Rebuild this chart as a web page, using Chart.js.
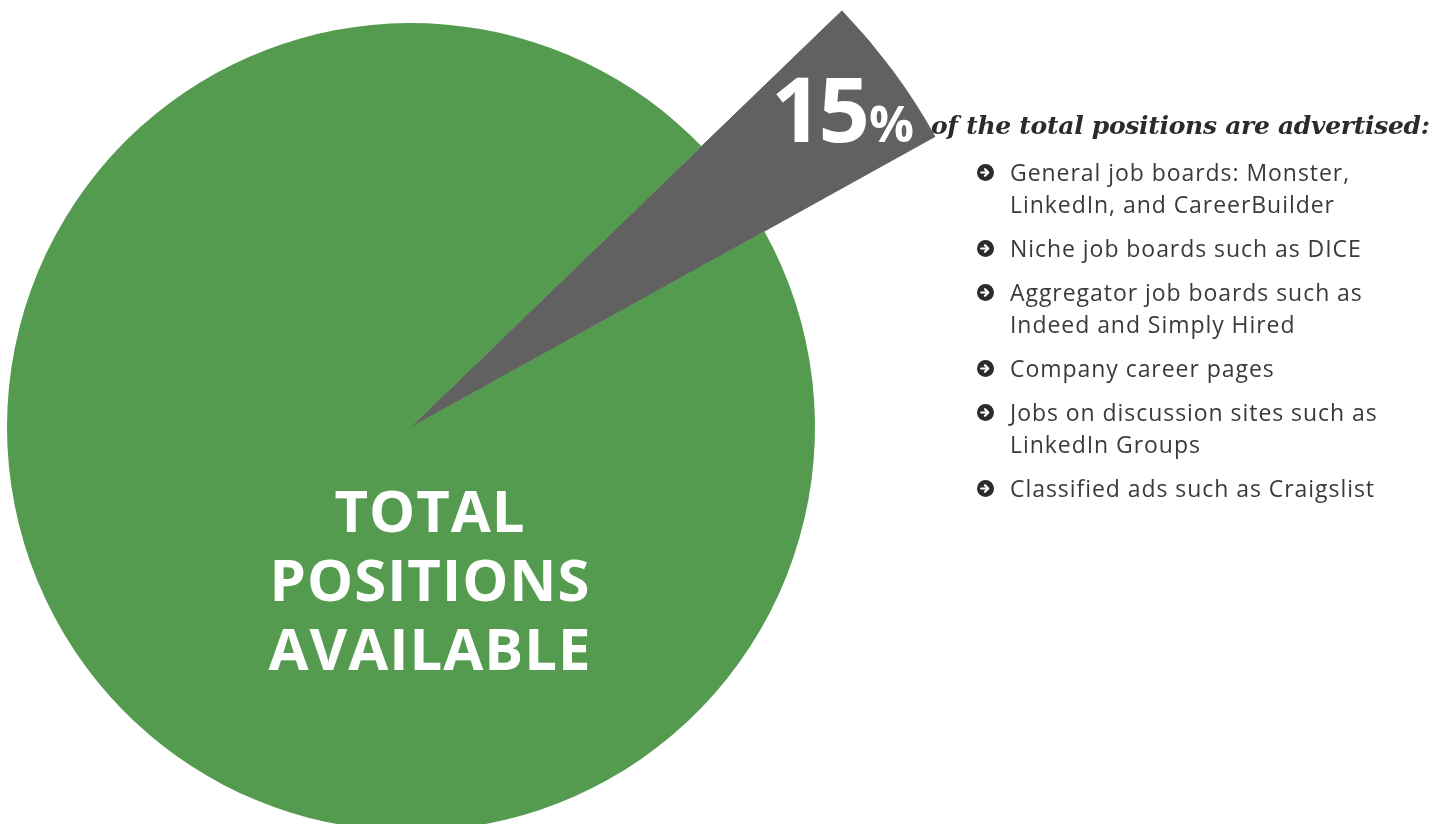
<!DOCTYPE html>
<html>
<head>
<meta charset="utf-8">
<script src="https://cdn.jsdelivr.net/npm/chart.js@4/dist/chart.umd.min.js"></script>
<style>
  html, body { margin: 0; padding: 0; background: #fff; }
  body { width: 1444px; height: 824px; overflow: hidden; position: relative; }
  #pieWrap { position: absolute; left: -189px; top: -173px; width: 1200px; height: 1200px; }
  .pct { position: absolute; left: 771px; top: 46px; color: #fff; font-family: 'Open Sans', sans-serif; font-weight: 700; white-space: nowrap; }
  .pct .num { font-size: 90px; letter-spacing: -4px; }
  .pct .sign { font-size: 50px; margin-left: 3px; }
  .lead { position: absolute; left: 931px; top: 111px; font-family: 'DejaVu Serif', serif; font-weight: 700; font-style: italic; font-size: 25px; color: #2b2b2b; white-space: nowrap; letter-spacing: -0.3px; }
  ul { position: absolute; left: 976px; top: 156px; margin: 0; padding: 0; list-style: none; font-family: 'Open Sans', sans-serif; font-size: 23px; color: #3a3a3a; line-height: 32px; letter-spacing: 0.95px; }
  li { position: relative; padding-left: 34px; margin-bottom: 12px; }
  li svg { position: absolute; left: 1px; top: 8px; }
  .center { position: absolute; left: 230px; top: 475px; width: 400px; text-align: center; color: #fff; font-family: 'Open Sans', sans-serif; font-weight: 700; font-size: 58px; line-height: 69px; letter-spacing: 1px; }
</style>
</head>
<body>
<div id="pieWrap"><canvas id="pieChart" width="1200" height="1200"></canvas></div>
<div class="pct"><span class="num">15</span><span class="sign">%</span></div>
<div class="lead">of the total positions are advertised:</div>
<ul id="channels"></ul>
<div class="center">TOTAL<br>POSITIONS<br>AVAILABLE</div>
<script>
const categories = ['Advertised', 'Not advertised'];
// wedge as drawn in the picture: 15 of 360 degrees
const wedgeDegrees = [15, 345];
const sliceColors = ['#616161', '#549b4f'];
const channels = [
  'General job boards: Monster,<br>LinkedIn, and CareerBuilder',
  'Niche job boards such as DICE',
  'Aggregator job boards such as<br>Indeed and Simply Hired',
  'Company career pages',
  'Jobs on discussion sites such as<br>LinkedIn Groups',
  'Classified ads such as Craigslist'
];

const icon = '<svg width="17" height="17" viewBox="0 0 17 17"><circle cx="8.5" cy="8.5" r="8.5" fill="#2b2b2b"/>' +
  '<path d="M4.2 8.5h6.3M8 5.2l3.3 3.3L8 11.8" stroke="#fff" stroke-width="2.2" fill="none" stroke-linecap="round" stroke-linejoin="round"/></svg>';
const list = document.getElementById('channels');
channels.forEach(function (t) {
  const li = document.createElement('li');
  li.innerHTML = icon + t;
  list.appendChild(li);
});

const ctx = document.getElementById('pieChart').getContext('2d');
const pieChart = new Chart(ctx, {
  type: 'pie',
  data: {
    labels: categories,
    datasets: [
      {
        // outer ring: only the advertised wedge sticks out
        data: wedgeDegrees,
        backgroundColor: [sliceColors[0], 'rgba(0,0,0,0)'],
        borderColor: [sliceColors[0], 'rgba(0,0,0,0)'],
        borderWidth: [1, 0],
        weight: 195
      },
      {
        data: wedgeDegrees,
        backgroundColor: sliceColors,
        borderColor: [sliceColors[0], sliceColors[1]],
        borderWidth: [1, 0],
        weight: 404
      }
    ]
  },
  options: {
    responsive: false,
    animation: false,
    rotation: 46,
    radius: 599,
    layout: { padding: 0 },
    plugins: {
      legend: { display: false },
      tooltip: { enabled: false }
    }
  }
});
</script>
</body>
</html>
